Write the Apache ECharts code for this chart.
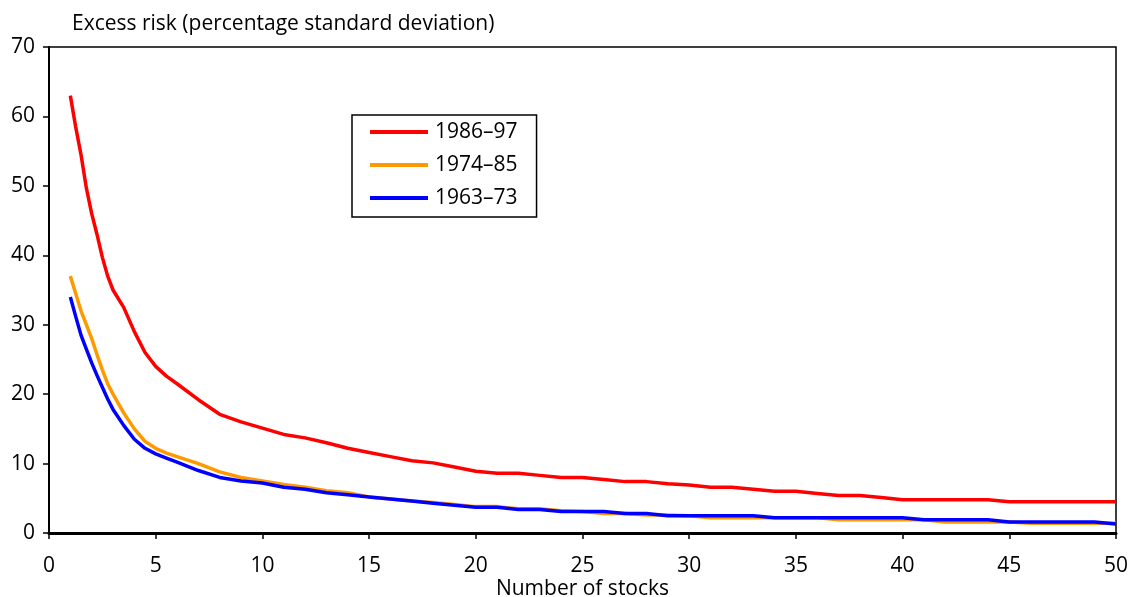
<!DOCTYPE html>
<html>
<head>
<meta charset="utf-8">
<script src="https://cdn.jsdelivr.net/npm/echarts@6/dist/echarts.min.js"></script>
<style>
  html, body { margin: 0; padding: 0; background: #fff; }
  #chart { width: 1130px; height: 597px; }
</style>
</head>
<body>
<div id="chart"></div>
<script>
// number of stocks in the portfolio
const stocks = [1, 1.25, 1.5, 1.75, 2, 2.25, 2.5, 2.75, 3, 3.5, 4, 4.5, 5, 5.5, 6, 7, 8, 9, 10,
  11, 12, 13, 14, 15, 16, 17, 18, 19, 20, 21, 22, 23, 24, 25, 26, 27, 28, 29, 30,
  31, 32, 33, 34, 35, 36, 37, 38, 39, 40, 41, 42, 43, 44, 45, 46, 47, 48, 49, 50];

// excess risk, percentage standard deviation
const risk8697 = [63, 58.5, 54.5, 49.7, 46, 43, 39.7, 37, 35, 32.5, 29, 26, 24, 22.6, 21.5, 19.2, 17.1, 16, 15.1,
  14.2, 13.7, 13.0, 12.2, 11.6, 11.0, 10.4, 10.1, 9.5, 8.9, 8.6, 8.6, 8.3, 8.0, 8.0, 7.7, 7.4, 7.4, 7.1, 6.9,
  6.6, 6.6, 6.3, 6.0, 6.0, 5.7, 5.4, 5.4, 5.1, 4.8, 4.8, 4.8, 4.8, 4.8, 4.5, 4.5, 4.5, 4.5, 4.5, 4.5];
const risk7485 = [37, 34.5, 32, 30, 28, 25.7, 23.5, 21.5, 20, 17.3, 15, 13.2, 12.2, 11.5, 11, 10, 8.8, 8, 7.5,
  7, 6.6, 6.1, 5.8, 5.2, 4.9, 4.6, 4.4, 4.1, 3.8, 3.8, 3.5, 3.5, 3.2, 3.1, 2.8, 2.8, 2.6, 2.6, 2.5,
  2.2, 2.2, 2.2, 2.2, 2.2, 2.2, 1.9, 1.9, 1.9, 1.9, 1.9, 1.6, 1.6, 1.6, 1.6, 1.4, 1.4, 1.4, 1.4, 1.4];
const risk6373 = [34, 31.2, 28.5, 26.5, 24.5, 22.7, 21, 19.3, 17.8, 15.5, 13.5, 12.2, 11.4, 10.8, 10.2, 9, 8, 7.5, 7.2,
  6.6, 6.3, 5.8, 5.5, 5.2, 4.9, 4.6, 4.3, 4.0, 3.7, 3.7, 3.4, 3.4, 3.1, 3.1, 3.1, 2.8, 2.8, 2.5, 2.5,
  2.5, 2.5, 2.5, 2.2, 2.2, 2.2, 2.2, 2.2, 2.2, 2.2, 1.9, 1.9, 1.9, 1.9, 1.6, 1.6, 1.6, 1.6, 1.6, 1.3];

const names = ['1986–97', '1974–85', '1963–73'];
const colors = ['#ff0000', '#ff9900', '#0000ff'];
const seriesData = [risk8697, risk7485, risk6373];

const font = '"Open Sans", "Liberation Sans", sans-serif';

const chart = echarts.init(document.getElementById('chart'));

chart.setOption({
  animation: false,
  textStyle: { fontFamily: font, color: '#000' },
  title: {
    text: 'Excess risk (percentage standard deviation)',
    left: 67,
    top: 9,
    textStyle: { fontSize: 21, fontWeight: 'normal', fontFamily: font, color: '#000' }
  },
  grid: {
    left: 49, right: 14, top: 47, bottom: 64,
    outerBoundsMode: 'none',
    containLabel: false,
    show: true, borderColor: '#000', borderWidth: 1.5
  },
  legend: {
    orient: 'vertical',
    left: 352,
    top: 115,
    padding: [6, 19, 8, 18],
    itemGap: 11,
    itemWidth: 58,
    itemHeight: 4,
    icon: 'rect',
    borderColor: '#000',
    borderWidth: 1.5,
    textStyle: { fontSize: 21, lineHeight: 22, fontFamily: font, color: '#000', padding: [0, 0, 0, 2] },
    data: names
  },
  xAxis: {
    type: 'value',
    min: 0, max: 50, interval: 5,
    name: 'Number of stocks',
    nameLocation: 'middle',
    nameGap: 46,
    nameMoveOverlap: false,
    nameTextStyle: { fontSize: 21, lineHeight: 21, fontFamily: font, color: '#000' },
    axisLine: { lineStyle: { color: '#000', width: 3 } },
    axisTick: { inside: false, length: 6, lineStyle: { color: '#000', width: 1.5 } },
    axisLabel: { fontSize: 21, margin: 23, color: '#000' },
    splitLine: { show: false }
  },
  yAxis: {
    type: 'value',
    min: 0, max: 70, interval: 10,
    axisLine: { show: true, lineStyle: { color: '#000', width: 2 } },
    axisTick: { show: true, length: 6, lineStyle: { color: '#000', width: 1.5 } },
    axisLabel: { fontSize: 21, margin: 14, color: '#000' },
    splitLine: { show: false }
  },
  series: seriesData.map((vals, i) => ({
    name: names[i],
    type: 'line',
    showSymbol: false,
    symbol: 'none',
    color: colors[i],
    lineStyle: { width: 3.5, color: colors[i] },
    data: stocks.map((x, j) => [x, vals[j]])
  }))
});
</script>
</body>
</html>
